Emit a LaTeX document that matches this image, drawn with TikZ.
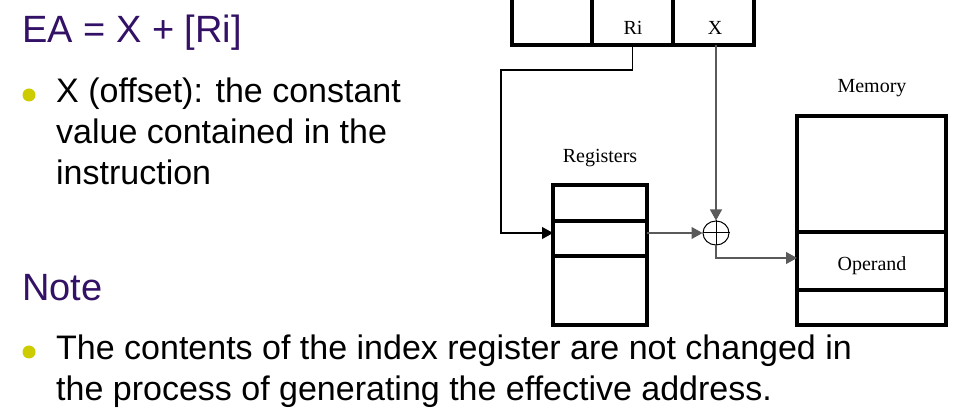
\documentclass[tikz,border=0pt]{standalone}
\usepackage{fontspec}
\setmainfont{Liberation Sans}
\newfontfamily\diafont{Liberation Serif}
\usetikzlibrary{arrows.meta,positioning,shapes.geometric}
\definecolor{headcol}{RGB}{51,17,102}
\definecolor{dotcol}{RGB}{204,204,0}
\definecolor{wirecol}{RGB}{90,90,90}

\tikzset{
  box/.style={draw, line width=3.2pt, rectangle, inner sep=0pt, outer sep=0pt},
  divider/.style={line width=3.2pt},
  lbl/.style={font=\diafont\fontsize{20}{24}\selectfont, inner sep=0pt, anchor=base},
  wire/.style={line width=1.1pt, wirecol},
  tip/.style={-{Triangle[length=11pt,width=12pt]}},
  head/.style={font=\fontsize{38}{46}\selectfont, text=headcol, anchor=base west, inner sep=0pt},
  body/.style={font=\fontsize{34}{41}\selectfont, anchor=base west, align=left, inner sep=0pt},
  dot/.style={circle, fill=dotcol, minimum size=13pt, inner sep=0pt},
}

\begin{document}
\begin{tikzpicture}[x=1pt,y=-1pt]
  \useasboundingbox (0,0) rectangle (959,419);
  \clip (0,0) rectangle (959,419);

  % slide text (base anchor sits on the last line)
  \node[head] (eq) at (22,43) {EA = X + [Ri]};
  \node[dot] (d1) at (29,95) {};
  \node[body] (t1) at (56,185) {X (offset): the constant\\value contained in the\\instruction};
  \node[head] (note) at (22,301) {Note};
  \node[dot] (d2) at (29,352) {};
  \node[body] (t2) at (56,401) {The contents of the index register are not changed in\\the process of generating the effective address.};

  % instruction word
  \node[box, minimum width=80pt, minimum height=60pt] (fa) at (552,15) {};
  \node[box, minimum width=81pt, minimum height=60pt, right=0pt of fa] (fri) {};
  \node[box, minimum width=81pt, minimum height=60pt, right=0pt of fri] (fx) {};
  \node[lbl] (ri) at (633,35) {Ri};
  \node[lbl] (xl) at (715,35) {X};

  % registers
  \node[box, minimum width=94pt, minimum height=140pt] (reg) at (600,255) {};
  \draw[divider] (reg.west |- 0,221) -- (reg.east |- 0,221);
  \draw[divider] (reg.west |- 0,256) -- (reg.east |- 0,256);
  \node[lbl] (reglbl) at (600,163) {Registers};

  % memory
  \node[box, minimum width=149pt, minimum height=209pt] (mem) at (871.5,220.5) {};
  \draw[divider] (mem.west |- 0,232) -- (mem.east |- 0,232);
  \draw[divider] (mem.west |- 0,290) -- (mem.east |- 0,290);
  \node[lbl] (memlbl) at (872,93) {Memory};
  \node[lbl] (op) at (872,271) {Operand};

  % adder
  \node[ellipse, draw, line width=1pt, minimum width=26pt, minimum height=24pt, inner sep=0pt] (sum) at (716,233) {};
  \draw[line width=1pt] (sum.north) -- (sum.south) (sum.west) -- (sum.east);

  % connectors
  \draw[line width=1.1pt, tip] (fri.south) |- (501,70) |- (reg.west |- sum);
  \draw[wire, tip] (fx.south -| sum) -- (sum.north);
  \draw[wire, tip] (reg.east |- sum) -- (sum.west);
  \draw[wire, tip] (sum.south) |- (mem.west |- 0,258);
\end{tikzpicture}
\end{document}
